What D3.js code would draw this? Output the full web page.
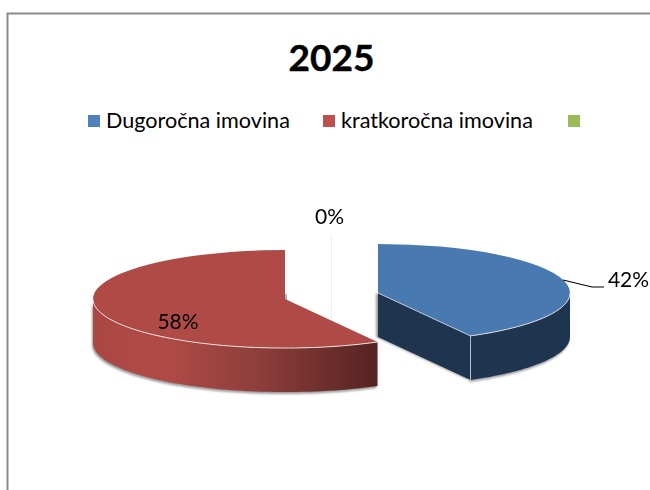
<!DOCTYPE html>
<html>
<head>
<meta charset="utf-8">
<script src="https://cdn.jsdelivr.net/npm/d3@7"></script>
<style>
  html, body { margin: 0; padding: 0; background: #fff; }
  text { font-family: Lato, "Open Sans", sans-serif; fill: #000; }
</style>
</head>
<body>
<div id="chart-area"></div>
<script>
var svgWidth = 650
var svgHeight = 490

// chart data
var chartTitle = "2025"
var categories = ["Dugoročna imovina", "kratkoročna imovina", ""]
var shares = [42, 58, 0]

var topColors = ["#4979b1", "#b04a47", "#9bbb59"]
var legendColors = ["#4f81bd", "#c0504d", "#9bbb59"]

var cx = 331.5, cy = 296
var rx = 192, ry = 49
var depth = 44
var explode = 48

var svg = d3.select("#chart-area")
	.append("svg")
	.attr("width", svgWidth)
	.attr("height", svgHeight)
	.style("display", "block")

var defs = svg.append("defs")

var blur = defs.append("filter").attr("id", "soft")
	.attr("x", "-5%").attr("y", "-10%").attr("width", "110%").attr("height", "120%")
blur.append("feGaussianBlur").attr("stdDeviation", 1.1)

// red wall goes dark towards the right
var redGrad = defs.append("linearGradient").attr("id", "redWall")
redGrad.append("stop").attr("offset", "0").attr("stop-color", "#a94744")
redGrad.append("stop").attr("offset", "0.25").attr("stop-color", "#b04a47")
redGrad.append("stop").attr("offset", "0.55").attr("stop-color", "#91403d")
redGrad.append("stop").attr("offset", "1").attr("stop-color", "#552321")

var blueGrad = defs.append("linearGradient").attr("id", "blueWall")
blueGrad.append("stop").attr("offset", "0").attr("stop-color", "#1f3550")
blueGrad.append("stop").attr("offset", "1").attr("stop-color", "#1f344e")

var wallFill = ["url(#blueWall)", "url(#redWall)", "none"]

// frame, runs off the right and the bottom of the picture
svg.append("path")
	.attr("d", "M7.5," + svgHeight + "V13.5H" + svgWidth)
	.attr("fill", "none")
	.attr("stroke", "#8c8c8c")
	.attr("stroke-width", 2)

svg.append("text")
	.attr("x", 331.5)
	.attr("y", 71)
	.attr("text-anchor", "middle")
	.attr("font-size", 37)
	.attr("font-weight", 700)
	.attr("stroke", "#000")
	.attr("stroke-width", 0.4)
	.text(chartTitle)

// legend
var legendX = d3.scaleOrdinal().domain(categories).range([88, 323, 568])

var legend = svg.selectAll(".legend").data(categories).enter()
	.append("g")
	.attr("class", "legend")
	.attr("transform", function(d){ return "translate(" + legendX(d) + ",115)" })

legend.append("rect")
	.attr("width", 12)
	.attr("height", 12)
	.attr("fill", function(d, i){ return legendColors[i] })

legend.append("text")
	.attr("x", 18)
	.attr("y", 13)
	.attr("font-size", 21.6)
	.text(function(d){ return d })

// pie angles, clockwise from the top
var pie = d3.pie().sort(null).value(function(d){ return d })
var slices = pie(shares)

var arc = d3.arc().innerRadius(0).outerRadius(rx)

function center(s){
	var mid = s.value === 0 ? 0 : (s.startAngle + s.endAngle) / 2
	return [cx + explode * Math.sin(mid), cy - explode * Math.cos(mid) * ry / rx]
}

function rim(c, a, drop){
	return [c[0] + rx * Math.sin(a), c[1] - ry * Math.cos(a) + drop]
}

var line = d3.line()

// outer wall: only the front half of the ellipse can be seen
function wallPath(s){
	var c = center(s)
	var a0 = Math.max(s.startAngle, Math.PI / 2)
	var a1 = Math.min(s.endAngle, 3 * Math.PI / 2)
	var step = (a1 - a0) / 60
	var angles = d3.range(61).map(function(i){ return a0 + i * step })
	var pts = angles.map(function(a){ return rim(c, a, 0) })
		.concat(angles.slice().reverse().map(function(a){ return rim(c, a, depth) }))
	return line(pts) + "Z"
}

// cut face along the end of the blue slice
function cutPath(s){
	var c = center(s)
	var e = rim(c, s.endAngle, 0)
	return line([c, e, [e[0], e[1] + depth], [c[0], c[1] + depth]]) + "Z"
}

function rimPath(s){
	var c = center(s)
	var a0 = Math.max(s.startAngle, Math.PI / 2)
	var a1 = Math.min(s.endAngle, 3 * Math.PI / 2)
	var step = (a1 - a0) / 60
	return line(d3.range(61).map(function(i){ return rim(c, a0 + i * step, 0) }))
}

var real = slices.filter(function(s){ return s.value > 0 })
var zero = slices.filter(function(s){ return s.value === 0 })

// the 0% slice only shows as a faint line
svg.selectAll(".zero").data(zero).enter()
	.append("line")
	.attr("class", "zero")
	.attr("x1", function(s){ return center(s)[0] })
	.attr("x2", function(s){ return center(s)[0] })
	.attr("y1", function(s){ return center(s)[1] - ry })
	.attr("y2", function(s){ return center(s)[1] + depth })
	.attr("stroke", "#efefef")
	.attr("stroke-width", 1)

var shadow = svg.append("g").attr("filter", "url(#soft)")

shadow.selectAll(".wallShadow").data(real).enter()
	.append("path")
	.attr("class", "wallShadow")
	.attr("d", wallPath)
	.attr("transform", "translate(-1,2)")
	.attr("fill", "#9a9a9a")

shadow.selectAll(".cutShadow").data(real.slice(0, 1)).enter()
	.append("path")
	.attr("class", "cutShadow")
	.attr("d", cutPath)
	.attr("transform", "translate(-2,0)")
	.attr("fill", "#9a9a9a")

// shadow behind the red apex and the blue back corner
svg.selectAll(".apex").data(real).enter()
	.append("line")
	.attr("class", "apex")
	.attr("x1", function(s){ return center(s)[0] + 1 })
	.attr("x2", function(s){ return center(s)[0] + 1 })
	.attr("y1", function(s){ return center(s)[1] - 5 })
	.attr("y2", function(s){ return center(s)[1] + 1 })
	.attr("stroke", "#b5b5b5")
	.attr("stroke-width", 2)

var pieces = svg.selectAll(".slice").data(real).enter()
	.append("g")
	.attr("class", "slice")

pieces.filter(function(s){ return s.index === 0 })
	.append("path")
	.attr("d", cutPath)
	.attr("fill", "#1f344e")

pieces.append("path")
	.attr("d", wallPath)
	.attr("fill", function(s){ return wallFill[s.index] })

pieces.append("path")
	.attr("transform", function(s){
		var c = center(s)
		return "translate(" + c[0] + "," + c[1] + ") scale(1," + ry / rx + ")"
	})
	.attr("d", arc)
	.attr("fill", function(s){ return topColors[s.index] })

// light bevel on the front edges
pieces.append("path")
	.attr("d", rimPath)
	.attr("fill", "none")
	.attr("stroke", "#e6dcdc")
	.attr("stroke-width", 1)

pieces.filter(function(s){ return s.index === 0 })
	.append("path")
	.attr("d", function(s){
		var c = center(s)
		var e = rim(c, s.endAngle, 0)
		return line([c, e, [e[0], e[1] + depth]])
	})
	.attr("fill", "none")
	.attr("stroke", "#b9c3d0")
	.attr("stroke-width", 1)

// data labels
var labelX = [628.5, 178, 329.5]
var labelY = [287, 329, 224]

svg.selectAll(".pct").data(slices).enter()
	.append("text")
	.attr("class", "pct")
	.attr("x", function(s){ return labelX[s.index] })
	.attr("y", function(s){ return labelY[s.index] })
	.attr("text-anchor", "middle")
	.attr("font-size", 21)
	.text(function(s){ return s.value + "%" })

// leader to the 42% label
svg.append("path")
	.attr("d", line([[563, 280], [592, 287], [604, 287]]))
	.attr("fill", "none")
	.attr("stroke", "#000")
	.attr("stroke-width", 1.2)
</script>
</body>
</html>
